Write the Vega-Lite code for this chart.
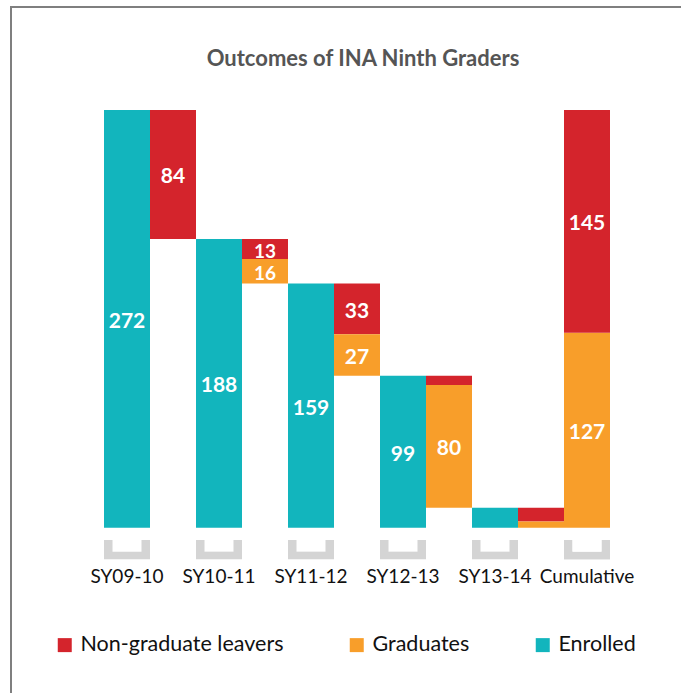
{
  "$schema": "https://vega.github.io/schema/vega-lite/v6.json",
  "autosize": {"type": "none"},
  "width": 692,
  "height": 706,
  "padding": {"left": 11, "top": 7, "right": -22, "bottom": -20},
  "background": "white",
  "view": {"stroke": "#7f7f7f", "strokeWidth": 2, "fill": null},
  "title": {
    "text": "Outcomes of INA Ninth Graders",
    "font": "Lato",
    "fontSize": 22,
    "fontWeight": "bold",
    "color": "#555555",
    "anchor": "middle",
    "dx": 6,
    "offset": 0,
    "dy": 64
  },
  "data": {
    "values": [
      {"slot": "SY09-10", "type": "Enrolled", "value": 272, "lo": 0, "hi": 272},
      {"slot": "SY09-10|c", "type": "Non-graduate leavers", "value": 84, "lo": 188, "hi": 272},
      {"slot": "SY10-11", "type": "Enrolled", "value": 188, "lo": 0, "hi": 188},
      {"slot": "SY10-11|c", "type": "Non-graduate leavers", "value": 13, "lo": 175, "hi": 188},
      {"slot": "SY10-11|c", "type": "Graduates", "value": 16, "lo": 159, "hi": 175},
      {"slot": "SY11-12", "type": "Enrolled", "value": 159, "lo": 0, "hi": 159},
      {"slot": "SY11-12|c", "type": "Non-graduate leavers", "value": 33, "lo": 126, "hi": 159},
      {"slot": "SY11-12|c", "type": "Graduates", "value": 27, "lo": 99, "hi": 126},
      {"slot": "SY12-13", "type": "Enrolled", "value": 99, "lo": 0, "hi": 99},
      {"slot": "SY12-13|c", "type": "Non-graduate leavers", "value": 6, "lo": 93, "hi": 99},
      {"slot": "SY12-13|c", "type": "Graduates", "value": 80, "lo": 13, "hi": 93},
      {"slot": "SY13-14", "type": "Enrolled", "value": 13, "lo": 0, "hi": 13},
      {"slot": "SY13-14|c", "type": "Non-graduate leavers", "value": 9, "lo": 4, "hi": 13},
      {"slot": "SY13-14|c", "type": "Graduates", "value": 4, "lo": 0, "hi": 4},
      {"slot": "Cumulative", "type": "Graduates", "value": 127, "lo": 0, "hi": 127},
      {"slot": "Cumulative", "type": "Non-graduate leavers", "value": 145, "lo": 127, "hi": 272}
    ]
  },
  "layer": [
    {
      "mark": {"type": "bar"},
      "encoding": {
        "x": {
          "field": "slot",
          "type": "nominal",
          "sort": null,
          "scale": {"type": "band", "paddingInner": 0, "paddingOuter": 0, "range": [93, 599]},
          "axis": {
            "title": null,
            "domain": false,
            "ticks": false,
            "offset": -185,
            "labelAngle": 0,
            "labelPadding": 39,
            "labelFont": "Lato",
            "labelFontSize": 19,
            "labelColor": "#111111",
            "labelOverlap": false,
            "labelExpr": "indexof(datum.label, '|') >= 0 ? '' : datum.label"
          }
        },
        "y": {"field": "lo", "type": "quantitative", "axis": null, "scale": {"domain": [-120.66, 339.06], "nice": false, "zero": false}},
        "y2": {"field": "hi"},
        "color": {
          "field": "type",
          "type": "nominal",
          "scale": {
            "domain": ["Non-graduate leavers", "Graduates", "Enrolled"],
            "range": ["#d4242c", "#f89e2a", "#12b5bd"]
          },
          "legend": {
            "title": null,
            "orient": "none",
            "direction": "horizontal",
            "legendX": 43,
            "legendY": 627,
            "symbolType": "square",
            "symbolSize": 196,
            "symbolStrokeWidth": 0,
            "symbolOpacity": 1,
            "labelFont": "Lato",
            "labelFontSize": 21.5,
            "labelColor": "#111111",
            "labelOffset": 5,
            "columnPadding": 62,
            "labelLimit": 400
          }
        }
      }
    },
    {
      "transform": [
        {"filter": "datum.value >= 10 && datum.slot != 'SY13-14'"},
        {"calculate": "(datum.lo + datum.hi) / 2", "as": "mid"}
      ],
      "mark": {
        "type": "text",
        "color": "white",
        "font": "Lato",
        "fontWeight": "bold",
        "baseline": "middle",
        "dy": 3
      },
      "encoding": {
        "x": {"field": "slot", "type": "nominal", "sort": null},
        "y": {"field": "mid", "type": "quantitative"},
        "text": {"field": "value", "type": "quantitative"},
        "size": {"condition": {"test": "datum.value < 20", "value": 19}, "value": 21}
      }
    },
    {
      "transform": [{"filter": "indexof(datum.slot, '|') < 0"}],
      "mark": {"type": "bar", "color": "#d4d4d4", "clip": false},
      "encoding": {
        "x": {"field": "slot", "type": "nominal", "sort": null},
        "y": {"datum": -8, "type": "quantitative"},
        "y2": {"datum": -20.6}
      }
    },
    {
      "transform": [{"filter": "indexof(datum.slot, '|') < 0"}],
      "mark": {"type": "bar", "color": "white", "width": {"band": 0.63}, "clip": false},
      "encoding": {
        "x": {"field": "slot", "type": "nominal", "sort": null},
        "y": {"datum": -7.9, "type": "quantitative"},
        "y2": {"datum": -15.6}
      }
    }
  ]
}
